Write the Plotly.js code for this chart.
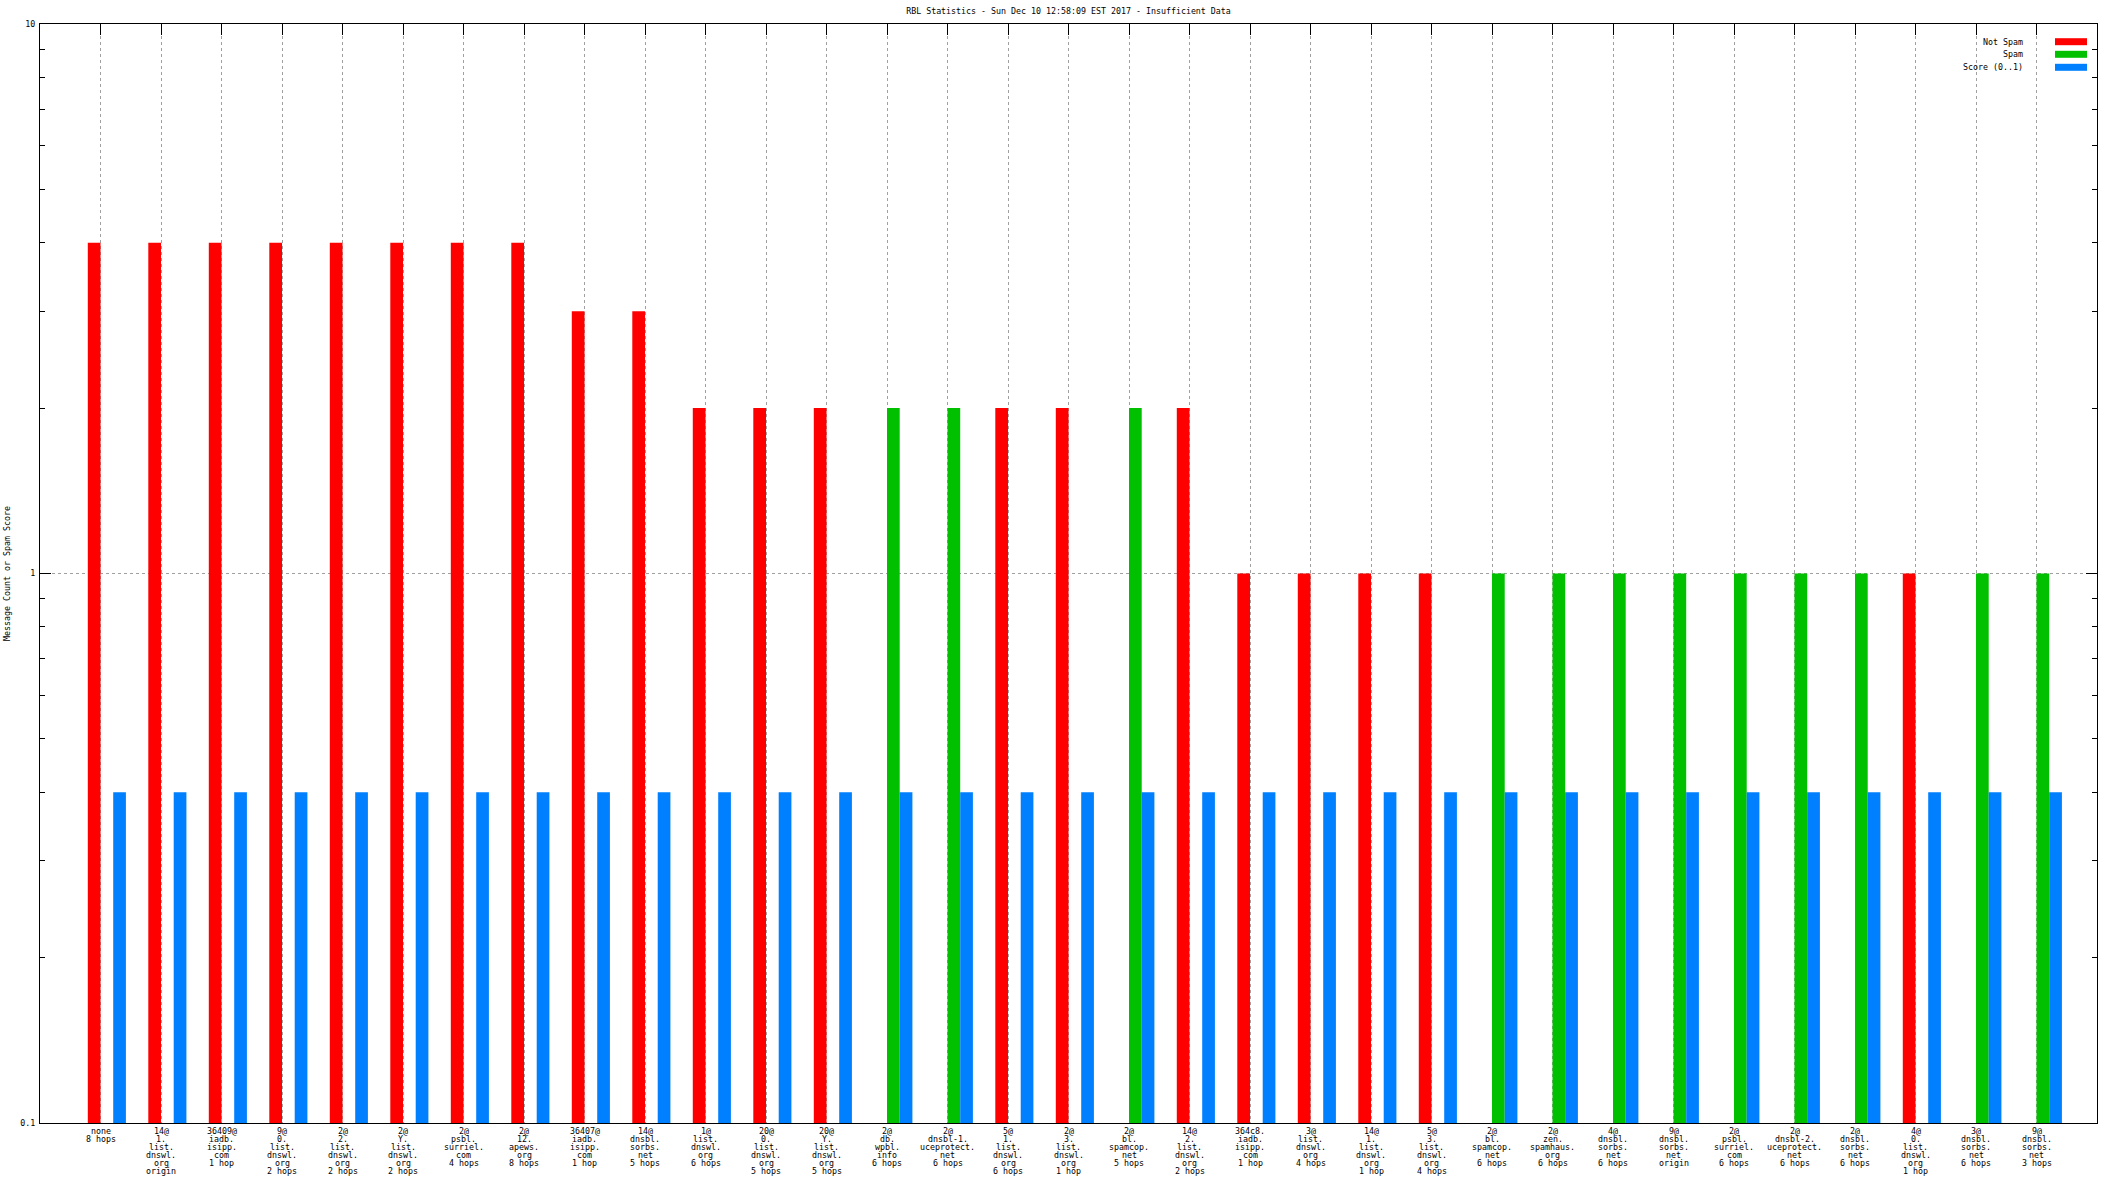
<!DOCTYPE html>
<html>
<head>
<meta charset="utf-8">
<script src="https://cdn.plot.ly/plotly-3.0.1.min.js"></script>
<style>html,body{margin:0;padding:0;background:#fff}#chart{width:2112px;height:1188px}</style>
</head>
<body>
<div id="chart"></div>
<script>
// ---- data ----
const categories = [
  "none<br>8 hops",
  "14@<br>1.<br>list.<br>dnswl.<br>org<br>origin",
  "36409@<br>iadb.<br>isipp.<br>com<br>1 hop",
  "9@<br>0.<br>list.<br>dnswl.<br>org<br>2 hops",
  "2@<br>2.<br>list.<br>dnswl.<br>org<br>2 hops",
  "2@<br>Y.<br>list.<br>dnswl.<br>org<br>2 hops",
  "2@<br>psbl.<br>surriel.<br>com<br>4 hops",
  "2@<br>12.<br>apews.<br>org<br>8 hops",
  "36407@<br>iadb.<br>isipp.<br>com<br>1 hop",
  "14@<br>dnsbl.<br>sorbs.<br>net<br>5 hops",
  "1@<br>list.<br>dnswl.<br>org<br>6 hops",
  "20@<br>0.<br>list.<br>dnswl.<br>org<br>5 hops",
  "20@<br>Y.<br>list.<br>dnswl.<br>org<br>5 hops",
  "2@<br>db.<br>wpbl.<br>info<br>6 hops",
  "2@<br>dnsbl-1.<br>uceprotect.<br>net<br>6 hops",
  "5@<br>1.<br>list.<br>dnswl.<br>org<br>6 hops",
  "2@<br>3.<br>list.<br>dnswl.<br>org<br>1 hop",
  "2@<br>bl.<br>spamcop.<br>net<br>5 hops",
  "14@<br>2.<br>list.<br>dnswl.<br>org<br>2 hops",
  "364c8.<br>iadb.<br>isipp.<br>com<br>1 hop",
  "3@<br>list.<br>dnswl.<br>org<br>4 hops",
  "14@<br>1.<br>list.<br>dnswl.<br>org<br>1 hop",
  "5@<br>3.<br>list.<br>dnswl.<br>org<br>4 hops",
  "2@<br>bl.<br>spamcop.<br>net<br>6 hops",
  "2@<br>zen.<br>spamhaus.<br>org<br>6 hops",
  "4@<br>dnsbl.<br>sorbs.<br>net<br>6 hops",
  "9@<br>dnsbl.<br>sorbs.<br>net<br>origin",
  "2@<br>psbl.<br>surriel.<br>com<br>6 hops",
  "2@<br>dnsbl-2.<br>uceprotect.<br>net<br>6 hops",
  "2@<br>dnsbl.<br>sorbs.<br>net<br>6 hops",
  "4@<br>0.<br>list.<br>dnswl.<br>org<br>1 hop",
  "3@<br>dnsbl.<br>sorbs.<br>net<br>6 hops",
  "9@<br>dnsbl.<br>sorbs.<br>net<br>3 hops"
];
const notSpam = [4,4,4,4,4,4,4,4,3,3,2,2,2,null,null,2,2,null,2,1,1,1,1,null,null,null,null,null,null,null,1,null,null];
const spam    = [null,null,null,null,null,null,null,null,null,null,null,null,null,2,2,null,null,2,null,null,null,null,null,1,1,1,1,1,1,1,null,1,1];
const score   = [0.4,0.4,0.4,0.4,0.4,0.4,0.4,0.4,0.4,0.4,0.4,0.4,0.4,0.4,0.4,0.4,0.4,0.4,0.4,0.4,0.4,0.4,0.4,0.4,0.4,0.4,0.4,0.4,0.4,0.4,0.4,0.4,0.4];
const seriesNames = ["Not Spam", "Spam", "Score (0..1)"];
const yTickVals = [0.1, 1, 10];
const yTickText = ["0.1", "1", "10"];
const yMinorVals = [0.2,0.3,0.4,0.5,0.6,0.7,0.8,0.9,2,3,4,5,6,7,8,9];
const titleText = "RBL Statistics - Sun Dec 10 12:58:09 EST 2017 - Insufficient Data";
const yTitle = "Message Count or Spam Score";

// ---- styling ----
const colors = ["#ff0000", "#00c000", "#0080ff"];
const FONT = {family: "DejaVu Sans Mono, monospace", size: 8.3, color: "#000"};
const W = 2112, H = 1188;
const M = {l: 40, r: 15, t: 24, b: 65};
const pw = W - M.l - M.r, ph = H - M.t - M.b;
const bw = 0.21;
const xs = categories.map((_, i) => i);

const traces = [notSpam, spam, score].map((vals, k) => ({
  type: "bar",
  x: xs,
  y: vals,
  name: seriesNames[k],
  width: bw,
  offset: (k - 1) * bw,
  marker: {color: colors[k], line: {width: 0}},
  showlegend: false,
  hoverinfo: "skip"
}));

const px2x = px => (px - M.l) / pw;
const px2y = py => (H - M.b - py) / ph;
const annotations = [];
const shapes = [];

// category labels: one annotation per line so the line pitch matches gnuplot's 8px font
const LINE_PITCH = 8, FIRST_LINE = 8;
categories.forEach((lab, i) => {
  lab.split("<br>").forEach((ln, j) => {
    annotations.push({
      xref: "x", yref: "paper", x: i, y: 0,
      xanchor: "center", yanchor: "middle",
      yshift: -(FIRST_LINE + LINE_PITCH * j),
      text: ln, showarrow: false, font: FONT, borderpad: 0
    });
  });
});

// custom legend (text left of swatch, like gnuplot)
const rowsY = [41.7, 54.3, 67.3];
seriesNames.forEach((nm, k) => {
  annotations.push({
    xref: "paper", yref: "paper", x: px2x(2025), y: px2y(rowsY[k]),
    xanchor: "right", yanchor: "middle", text: nm, showarrow: false, font: FONT
  });
  shapes.push({
    type: "rect", xref: "paper", yref: "paper",
    x0: px2x(2055), x1: px2x(2087), y0: px2y(rowsY[k] + 3.5), y1: px2y(rowsY[k] - 3.5),
    fillcolor: colors[k], line: {width: 0}
  });
});

const layout = {
  width: W, height: H,
  margin: M,
  paper_bgcolor: "#fff", plot_bgcolor: "#fff",
  font: FONT,
  barmode: "overlay",
  showlegend: false,
  title: {text: titleText, font: FONT, x: 0.5, xref: "paper", xanchor: "center", y: 1 - 11 / H, yanchor: "middle"},
  xaxis: {
    type: "linear", range: [-1, 33],
    tickmode: "array", tickvals: xs, showticklabels: false,
    ticks: "", showgrid: true, gridcolor: "#a0a0a0", griddash: "dot", gridwidth: 1,
    zeroline: false, showline: true, linecolor: "#000", linewidth: 1, mirror: true,
    fixedrange: true
  },
  xaxis2: {
    overlaying: "x", side: "top", anchor: "y", type: "linear", range: [-1, 33],
    tickmode: "array", tickvals: xs, ticks: "inside", ticklen: 11, tickcolor: "#000", tickwidth: 1,
    showticklabels: false, showgrid: false, zeroline: false, showline: false
  },
  yaxis: {
    type: "log", range: [-1, 1],
    tickmode: "array", tickvals: yTickVals, ticktext: yTickText,
    ticks: "inside", ticklen: 11, tickcolor: "#000", tickwidth: 1,
    showgrid: true, gridcolor: "#a0a0a0", griddash: "dot", gridwidth: 1,
    zeroline: false, showline: true, linecolor: "#000", linewidth: 1, mirror: "ticks",
    minor: {tickmode: "array", tickvals: yMinorVals, ticks: "inside", ticklen: 5, tickcolor: "#000", tickwidth: 1, showgrid: false},
    tickfont: FONT, ticklabelstandoff: 2,
    title: {text: yTitle, font: FONT, standoff: 8}
  },
  annotations: annotations,
  shapes: shapes
};

// invisible helper trace so the top tick axis is drawn
traces.push({type: "scatter", x: [0], y: [1], xaxis: "x2", yaxis: "y", mode: "markers", marker: {opacity: 0}, showlegend: false, hoverinfo: "skip"});

Plotly.newPlot("chart", traces, layout, {staticPlot: true, displayModeBar: false});
</script>
</body>
</html>
